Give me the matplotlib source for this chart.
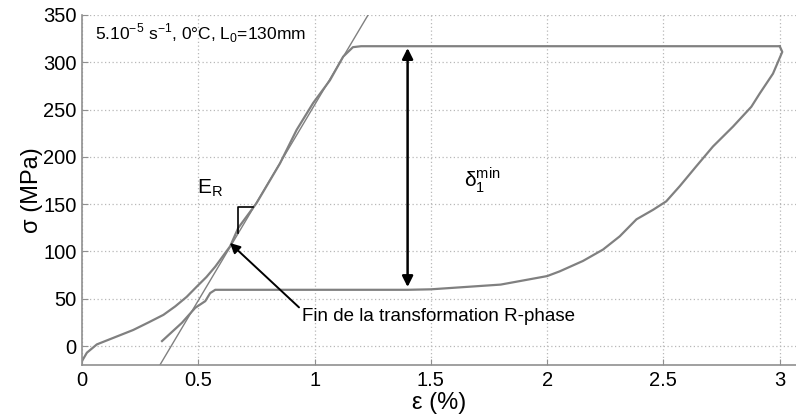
import matplotlib
matplotlib.use("Agg")
import matplotlib.pyplot as plt
import numpy as np

plt.rcParams['font.family'] = ['Liberation Sans', 'DejaVu Sans']

# Loading branch (strain %, stress MPa)
load_eps = [0.0, 0.021, 0.064, 0.143, 0.22, 0.286, 0.35, 0.401, 0.45, 0.494, 0.535, 0.573,
            0.637, 0.672, 0.75, 0.851, 0.923, 0.994, 1.066, 1.123, 1.165, 1.20, 1.6, 2.0,
            2.5, 2.9, 3.0]
load_sig = [-15.8, -7, 1.8, 9.5, 17, 25, 33, 42, 52, 63, 73, 84,
            105.5, 125, 151, 193, 228.6, 257, 281, 306, 316, 317, 317, 317,
            317, 317, 317]

# Unloading branch
unl_eps = [3.0, 3.011, 2.971, 2.914, 2.878, 2.799, 2.713, 2.641, 2.57, 2.512, 2.455,
           2.384, 2.312, 2.24, 2.154, 2.054, 2.0, 1.8, 1.5, 1.4, 1.0, 0.7, 0.60,
           0.573, 0.551, 0.53, 0.487, 0.43, 0.344]
unl_sig = [317, 311, 288, 267, 253, 232, 211, 190, 169, 153, 144,
           134, 116, 102, 90, 79, 74, 65, 60, 59.5, 59.5, 59.5, 59.5,
           59.5, 56, 47.5, 40.5, 24.7, 5.3]

# Tangent line (E_R)
tan_eps = [0.335, 1.23]
tan_sig = [-20, 350]

# slope marker
mark_eps = [0.67, 0.67, 0.735]
mark_sig = [120, 147, 147]

xticks = [0, 0.5, 1, 1.5, 2, 2.5, 3]
xticklabels = ['0', '0.5', '1', '1.5', '2', '2.5', '3']
yticks = [0, 50, 100, 150, 200, 250, 300, 350]

fig = plt.figure(figsize=(7.96, 4.20), dpi=100)
ax = fig.add_axes([82/796, 55/420, 714/796, 350/420])

gray = '#808080'
ax.plot(load_eps, load_sig, color=gray, lw=1.6)
ax.plot(unl_eps, unl_sig, color=gray, lw=1.6)
ax.plot(tan_eps, tan_sig, color=gray, lw=1.0)
ax.plot(mark_eps, mark_sig, color='black', lw=1.2)

ax.set_xlim(0, 3.07)
ax.set_ylim(-20, 350)
ax.set_xticks(xticks)
ax.set_xticklabels(xticklabels)
ax.set_yticks(yticks)
ax.grid(True, linestyle=(0, (1, 2)), color='#b8b8b8', lw=0.9)
ax.tick_params(direction='in', length=4, color='#909090', labelsize=14.5, pad=4)
for s in ['top', 'right']:
    ax.spines[s].set_visible(False)
for s in ['left', 'bottom']:
    ax.spines[s].set_color('#909090')
    ax.spines[s].set_linewidth(1.2)

ax.set_xlabel('ε (%)', fontsize=17, labelpad=2)
ax.set_ylabel('σ (MPa)', fontsize=17, labelpad=0)

ax.text(0.056, 331, r'5.10$^{\mathregular{-5}}$ s$^{\mathregular{-1}}$, 0°C, L$_\mathregular{0}$=130mm',
        fontsize=12.5, va='center', ha='left')
ax.text(0.55, 167, r'E$_\mathregular{R}$', fontsize=15, ha='center', va='center')
ax.text(1.72, 176, r'$\mathregular{\delta}_\mathregular{1}^{\mathregular{min}}$', fontsize=15,
        ha='center', va='center')

ax.annotate('', xy=(1.40, 318), xytext=(1.40, 59.5),
            arrowprops=dict(arrowstyle='<|-|>', color='black', lw=1.8, mutation_scale=16))
ax.annotate('Fin de la transformation R-phase', xy=(0.636, 109), xytext=(0.945, 31),
            fontsize=13.5, va='center', ha='left',
            arrowprops=dict(arrowstyle='-|>', color='black', lw=1.4, mutation_scale=15,
                            shrinkA=0, shrinkB=0, relpos=(0.0, 0.9)))

fig.savefig('out.png', dpi=100)
